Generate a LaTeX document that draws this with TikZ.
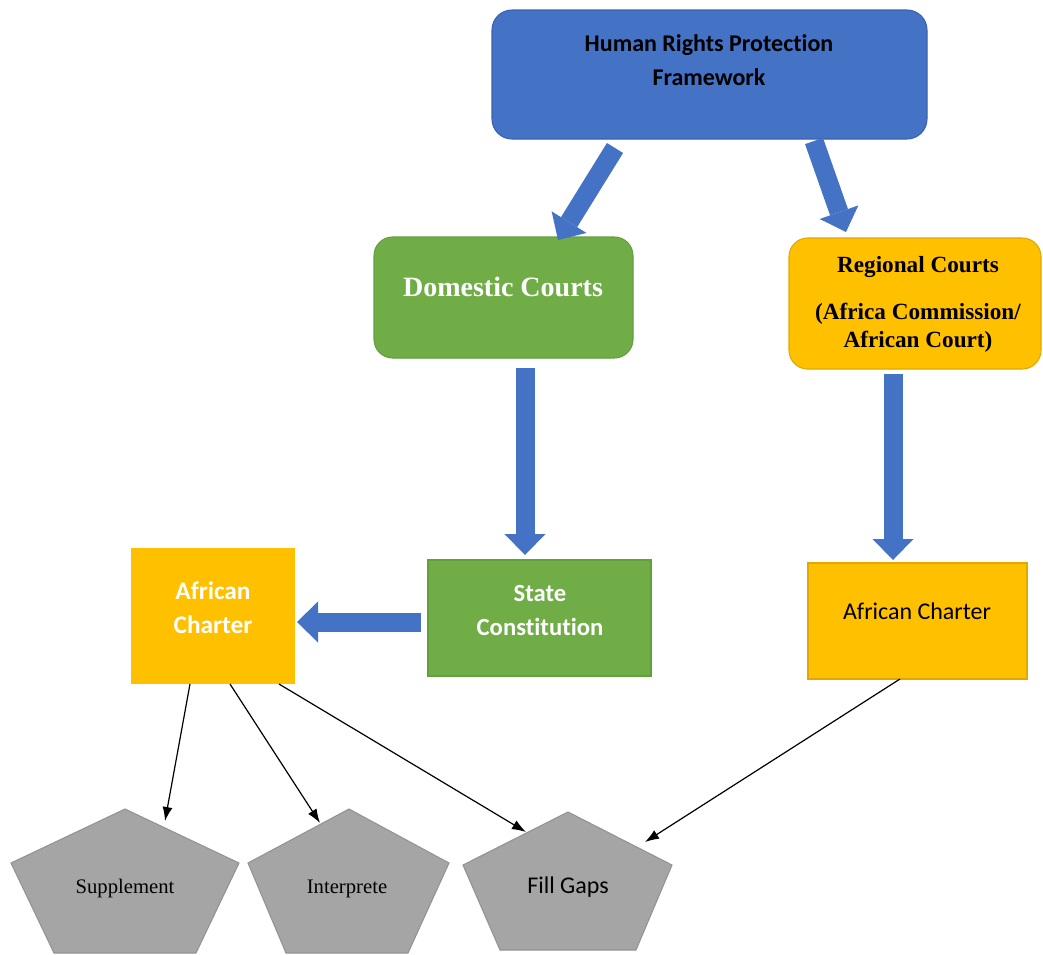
\documentclass[tikz,border=0pt]{standalone}
\usepackage{fontspec}
\setmainfont{Liberation Serif}
\newfontfamily\calfont[Ligatures={NoCommon}]{Carlito}
\usetikzlibrary{arrows.meta}
\definecolor{hblue}{HTML}{4472C4}
\definecolor{hblueD}{HTML}{3A63AE}
\definecolor{hgreen}{HTML}{70AD47}
\definecolor{hgreenD}{HTML}{62A03C}
\definecolor{hgold}{HTML}{FFC000}
\definecolor{hgoldD}{HTML}{E0A800}
\definecolor{hgray}{HTML}{A5A5A5}
\definecolor{hgrayD}{HTML}{939393}
\begin{document}
\begin{tikzpicture}[x=0.75pt,y=-0.75pt,
  boxsz/.style 2 args={minimum width=#1*0.75pt, minimum height=#2*0.75pt, inner sep=0pt, outer sep=0pt, line width=0.8pt},
  calb/.style={font=\calfont\bfseries\fontsize{18}{22.5}\selectfont, align=center, inner sep=0pt},
  calr/.style={font=\calfont\fontsize{18}{22.5}\selectfont, align=center, inner sep=0pt},
  serb/.style={font=\bfseries\fontsize{17.4}{21}\selectfont, align=center, inner sep=0pt},
  serr/.style={font=\fontsize{15.5}{18}\selectfont, align=center, inner sep=0pt},
  bigarrow/.style={draw=hblue, line width=14.25pt, -{Triangle[length=15.75pt,width=30.75pt,line width=0pt]}},
  thinarrow/.style={draw=black, line width=0.9pt, -{Latex[length=10.5pt,width=7.5pt]}},
  penta/.style={fill=hgray, draw=hgrayD, line width=0.8pt, line join=miter}
]
\useasboundingbox (0,0) rectangle (1043,954);

% boxes
\node[boxsz={435}{129}, fill=hblue, draw=hblueD, rounded corners=15pt] (hr) at (709.5,74.5) {};
\node[calb] (hrt) at (709,60) {Human Rights Protection\\[2.5pt]Framework};

\node[boxsz={259}{121}, fill=hgreen, draw=hgreenD, rounded corners=14pt] (dc) at (503.5,297.5) {};
\node[font=\bfseries\fontsize{21}{25}\selectfont, text=white, inner sep=0pt] (dct) at (503,287) {Domestic Courts};

\node[boxsz={252}{131}, fill=hgold, draw=hgoldD, rounded corners=14pt] (rc) at (915,303.5) {};
\node[serb] (rct) at (918,304) {Regional Courts\\[14.25pt](Africa Commission/\\African Court)};

\node[boxsz={223}{116}, fill=hgreen, draw=hgreenD] (sc) at (539.5,618) {};
\node[calb, text=white, font=\calfont\bfseries\fontsize{18.5}{25.5}\selectfont] (sct) at (540,610) {State\\Constitution};

\node[boxsz={164}{136}, fill=hgold] (acl) at (213,616) {};
\node[calb, text=white, font=\calfont\bfseries\fontsize{19}{25.5}\selectfont] (aclt) at (213,608) {African\\Charter};

\node[boxsz={219}{116}, fill=hgold, draw=hgoldD] (acr) at (917.5,621) {};
\node[calr] (acrt) at (917,611) {African Charter};

% pentagons
\filldraw[penta] (125,809) -- (239,863) -- (196,953) -- (54,953) -- (11,863) -- cycle;
\filldraw[penta] (349,809) -- (449,863) -- (408,953) -- (286,953) -- (248,863) -- cycle;
\filldraw[penta] (568,812) -- (672,865) -- (636,950) -- (500,950) -- (463,865) -- cycle;
\node[serr] (sup) at (125,889) {Supplement};
\node[serr] (int) at (347,889) {Interprete};
\node[calr] (fg) at (568,887) {Fill Gaps};

% big arrows
\coordinate (a1s) at (615,148); \coordinate (a1e) at (558,240);
\coordinate (a2s) at (814,141); \coordinate (a2e) at (846,232);
\coordinate (a3s) at (525,368); \coordinate (a3e) at (525,555);
\coordinate (a4s) at (893,374); \coordinate (a4e) at (893,560);
\coordinate (a5s) at (421,622); \coordinate (a5e) at (297,622);
\draw[bigarrow] (a1s) -- (a1e);
\draw[bigarrow] (a2s) -- (a2e);
\draw[bigarrow] (a3s) -- (a3e);
\draw[bigarrow] (a4s) -- (a4e);
\draw[bigarrow] (a5s) -- (a5e);

% thin arrows
\coordinate (supin) at (165,821);
\coordinate (intin) at (320,823);
\coordinate (fgin1) at (526,832);
\coordinate (fgin2) at (645,842);
\draw[thinarrow] (acl.south -| 190,0) -- (supin);
\draw[thinarrow] (acl.south -| 230,0) -- (intin);
\draw[thinarrow] (acl.south -| 279,0) -- (fgin1);
\draw[thinarrow] (acr.south -| 900,0) -- (fgin2);
\end{tikzpicture}
\end{document}
